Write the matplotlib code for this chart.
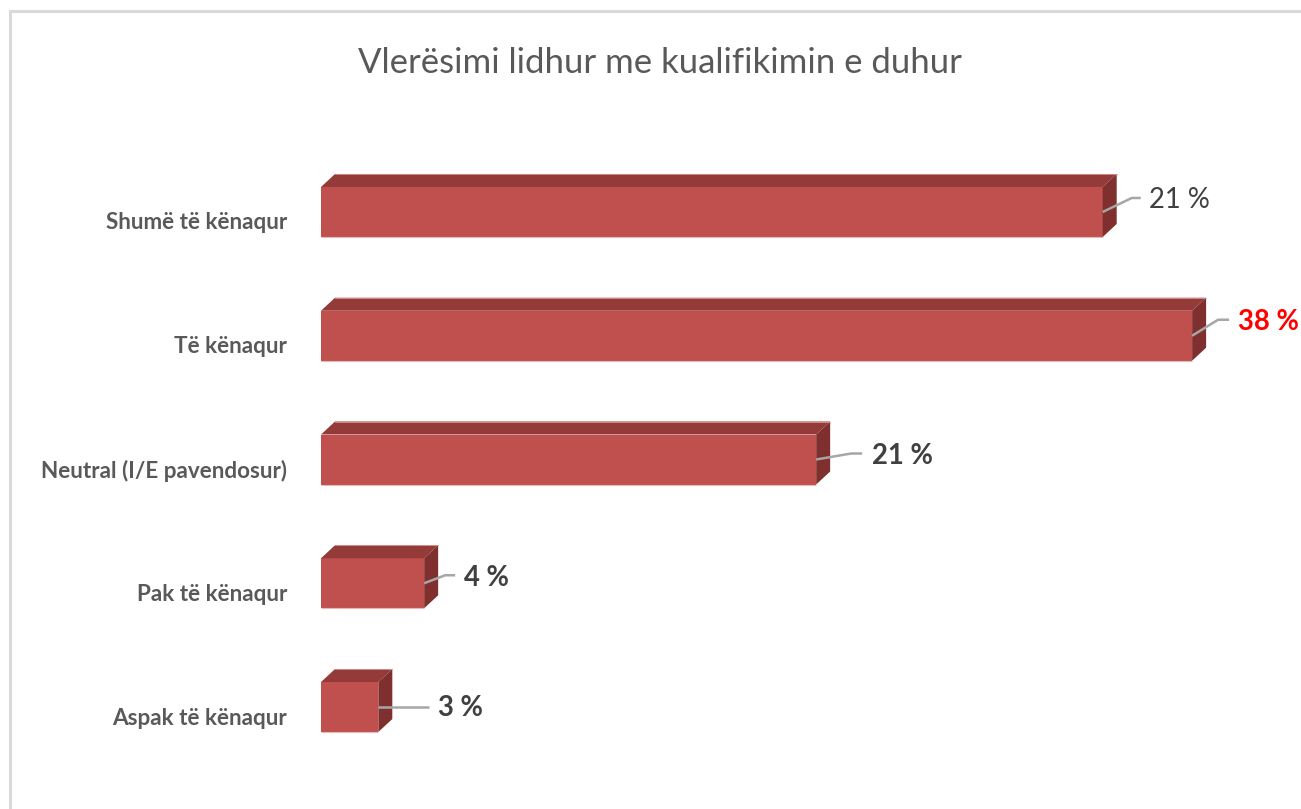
import matplotlib
matplotlib.use("Agg")
import matplotlib.pyplot as plt
from matplotlib.patches import Polygon
from matplotlib.lines import Line2D

# ---- data ----
categories = ["Shumë të kënaqur", "Të kënaqur", "Neutral (I/E pavendosur)",
              "Pak të kënaqur", "Aspak të kënaqur"]
bar_values = [34.1, 38.0, 21.6, 4.5, 2.5]          # bar lengths as drawn
value_labels = ["21 %", "38 %", "21 %", "4 %", "3 %"]  # data labels as printed
title = "Vlerësimi lidhur me kualifikimin e duhur"

# ---- layout / style ----
W, H = 1301, 809
FONT = ["Lato", "DejaVu Sans"]
front_c = "#C0504D"
top_c = "#943B39"
side_c = "#7F302E"
leader_c = "#A6A6A6"
label_colors = ["#404040", "#FF0000", "#404040", "#404040", "#404040"]
label_weights = ["normal", "bold", "bold", "bold", "bold"]
# leader line geometry in pixels relative to bar end: (kink dx, kink dy, end dx, text dx, text dy)
leaders = [(29, -14, 38, 46, -12),
           (26, -16, 37, 46, -14),
           (35, -6, 46, 56, -3),
           (21, -8, 31, 40, -5),
           (25, 0, 51, 60, 1)]

fig = plt.figure(figsize=(W / 100, H / 100), dpi=100)
fig.patch.set_facecolor("white")

XMAX = 42.75
ax_left_px, ax_right_px = 321, 1301
ax_top_px, ax_bot_px = 150.1, 768.9
ax = fig.add_axes([ax_left_px / W, 1 - ax_bot_px / H,
                   (ax_right_px - ax_left_px) / W, (ax_bot_px - ax_top_px) / H])
ax.set_xlim(0, XMAX)
ax.set_ylim(4.5, -0.5)
ax.axis("off")

ux = XMAX / (ax_right_px - ax_left_px)   # data units per pixel (x)
uy = 5.0 / (ax_bot_px - ax_top_px)       # data units per pixel (y, downwards)

bar_h = 50 * uy
ddx = 14 * ux
ddy = -13 * uy

ypos = list(range(len(categories)))
ax.barh(ypos, bar_values, height=bar_h, color=front_c, edgecolor="none", zorder=2)
for y, v in zip(ypos, bar_values):
    t = y - bar_h / 2
    b = y + bar_h / 2
    ax.add_patch(Polygon([(0, t), (v, t), (v + ddx, t + ddy), (ddx, t + ddy)],
                         closed=True, facecolor=top_c, edgecolor="none", zorder=2))
    ax.add_patch(Polygon([(v, t), (v + ddx, t + ddy), (v + ddx, b + ddy), (v, b)],
                         closed=True, facecolor=side_c, edgecolor="none", zorder=2))
    # faint light edges
    ax.plot([0, v], [b, b], color="#E6B9B8", lw=0.8, zorder=3, solid_capstyle="butt")
    ax.plot([ddx, v + ddx], [t + ddy, t + ddy], color="#D99694", lw=0.6, zorder=3)

# category labels
for y, c in zip(ypos, categories):
    ax.text(-34 * ux, y + 11 * uy, c, ha="right", va="center", fontsize=16.2,
            fontweight="bold", color="#595959", family=FONT)

# leader lines and value labels
for y, v, lab, col, wt, (kx, ky, ex, tx, ty) in zip(ypos, bar_values, value_labels,
                                                     label_colors, label_weights, leaders):
    xs = [v, v + kx * ux, v + ex * ux]
    ys = [y, y + ky * uy, y + ky * uy]
    ax.plot(xs, ys, color=leader_c, lw=1.8, zorder=4, solid_capstyle="butt")
    ax.text(v + tx * ux, y + ty * uy, lab, ha="left", va="center", fontsize=19.8,
            fontweight=wt, color=col, family=FONT, zorder=5)

# title
fig.text(660 / W, 1 - 63 / H, title, ha="center", va="center", fontsize=25,
         fontweight="normal", color="#595959", family=FONT)

# chart border (left and top edges visible)
fig.add_artist(Line2D([9.5 / W, 9.5 / W], [0, 1 - 11.3 / H], color="#D9D9D9",
                      lw=2.2, transform=fig.transFigure))
fig.add_artist(Line2D([9.5 / W, 1], [1 - 11.3 / H, 1 - 11.3 / H], color="#D9D9D9",
                      lw=2.2, transform=fig.transFigure))

fig.savefig("out.png", dpi=100)
